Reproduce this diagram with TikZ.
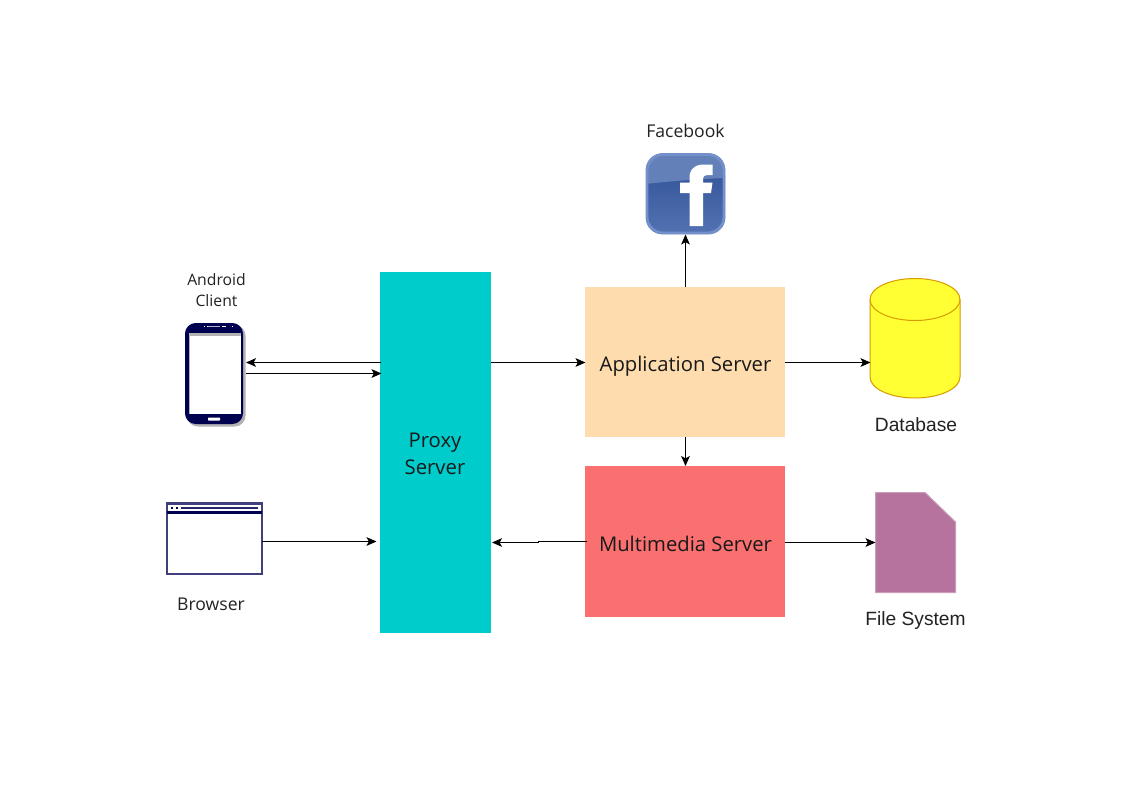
\documentclass[tikz,border=0pt]{standalone}
\usepackage{fontspec}
\setmainfont{Open Sans}
\newfontfamily\helv{Liberation Sans}
\usetikzlibrary{arrows.meta,shapes.geometric}
\definecolor{proxyc}{HTML}{00CCCC}
\definecolor{appc}{HTML}{FFDCAD}
\definecolor{mmc}{HTML}{FA7070}
\definecolor{dbc}{HTML}{FFFF33}
\definecolor{dbl}{HTML}{D79B00}
\definecolor{filec}{HTML}{B5739D}
\definecolor{navy}{HTML}{000050}
\definecolor{txt}{HTML}{222222}
\definecolor{fbdark}{HTML}{37589C}
\definecolor{fbmid}{HTML}{5272B2}
\definecolor{fblight}{HTML}{6480B8}
\definecolor{fbedge}{HTML}{7390CA}
\tikzset{
  x=0.75pt,y=-0.75pt,
  conn/.style={draw=black,line width=0.75pt,-{Stealth[length=7.5pt,width=6.5pt,inset=1.8pt]}},
  server/.style={anchor=center,inner sep=0pt,align=center,text=black!90,font=\fontsize{15.2pt}{20pt}\selectfont},
  lab/.style={anchor=center,inner sep=0pt,align=center,text=txt,font=\fontsize{13.2pt}{15.6pt}\selectfont},
  smalllab/.style={anchor=center,inner sep=0pt,align=center,text=txt,font=\fontsize{11.8pt}{15.7pt}\selectfont},
  hlab/.style={anchor=center,inner sep=0pt,align=center,text=txt,font=\helv\fontsize{14.4pt}{16pt}\selectfont},
}
\begin{document}
\begin{tikzpicture}
\useasboundingbox (0,0) rectangle (1143,793);
\fill[white] (0,0) rectangle (1143,793);
% boxes
\fill[proxyc] (380,272) rectangle (491,633);
\node[server] (proxy) at (435,454) {Proxy\\Server};
\fill[appc] (585,287) rectangle (785,437);
\node[server] (app) at (685.5,366) {Application Server};
\fill[mmc] (585,466) rectangle (785,617);
\node[server] (mm) at (685.5,544) {Multimedia Server};
% database
\path[draw=dbl,fill=dbc,line width=0.75pt] (870,299.5) arc[x radius=45,y radius=21,start angle=180,end angle=360] -- (960,377) arc[x radius=45,y radius=21,start angle=0,end angle=180] -- cycle;
\draw[dbl,line width=0.75pt] (870,299.5) arc[x radius=45,y radius=21,start angle=180,end angle=0];
\node[hlab] (dblab) at (916,424.5) {Database};
% file
\path[fill=filec,draw=filec!70!white,line width=0.75pt] (875.5,492.5) -- (925,492.5) -- (955.5,522) -- (955.5,592.5) -- (875.5,592.5) -- cycle;
\node[hlab] (filelab) at (915.5,620.5) {File System};
% facebook
\node[lab] (fblab) at (685.5,131) {Facebook};
\begin{scope}
\clip[rounded corners=12] (646,153.5) rectangle (725,234);
\shade[top color=fbdark,bottom color=fbmid] (646,175) rectangle (725,234);
\fill[fblight] (646,153.5) -- (725,153.5) -- (725,178) .. controls (700,179) and (670,181) .. (646,184) -- cycle;
\end{scope}
\draw[fbedge,line width=2.2pt,rounded corners=12] (647,154.5) rectangle (724,233);
\path[fill=white] (689.5,226) -- (689.5,193) -- (680,193) -- (680,182.5) -- (689.5,182.5) -- (689.5,178)
  .. controls (689.5,169) and (695,164.5) .. (704,164.5) -- (712.5,164.5) -- (712.5,175) -- (707,175)
  .. controls (704,175) and (703,176.5) .. (703,179) -- (703,182.5) -- (712.5,182.5) -- (711,193) -- (703,193) -- (703,226) -- cycle;
% phone
\node[smalllab] (androidlab) at (216.5,290) {Android\\Client};
\fill[black!30,rounded corners=8] (187,325) rectangle (245.5,426.5);
\fill[navy,rounded corners=8] (185,323) rectangle (243,424);
\fill[black!30] (188.5,333) rectangle (240.5,414);
\fill[white] (190,335.5) rectangle (240.5,414);
\fill[white] (207,325.7) rectangle (210,326.3);
\fill[white!70!navy] (208,325.6) rectangle (220,326.4);
\fill[white] (222,325.5) rectangle (226,326.5);
\fill[white] (232,325.5) rectangle (233,326.5);
\fill[white] (204,325.5) rectangle (205,326.5);
\fill[white,rounded corners=0.5] (208,417.5) rectangle (220,420.5);
% browser
\draw[navy!75!white,line width=1.7pt] (167,503.5) rectangle (262,574);
\draw[navy,line width=1.7pt] (167,512.5) -- (262,512.5);
\draw[navy!85!white,line width=1.5pt] (181,507.8) -- (258,507.8);
\fill[navy] (171,506.8) rectangle (173,508.8);
\fill[navy] (176,506.8) rectangle (178,508.8);
\node[lab] (browserlab) at (211,604) {Browser};
% connector ends
\coordinate (proxyA) at (381,362.5);
\coordinate (phoneA) at (246,362.5);
\coordinate (phoneB) at (246,373.5);
\coordinate (proxyB) at (381.5,373.5);
\coordinate (browserR) at (262,541.5);
\coordinate (proxyC) at (376.5,541.5);
\coordinate (proxyR) at (491,362.5);
\coordinate (appL) at (585.5,362.5);
\coordinate (appT) at (685.5,287);
\coordinate (fbB) at (685.5,234.5);
\coordinate (appR) at (785,362.5);
\coordinate (dbL) at (870.5,362.5);
\coordinate (appB) at (685.5,437);
\coordinate (mmT) at (685.5,466);
\coordinate (mmL) at (587,541.5);
\coordinate (jogA) at (538.5,541.5);
\coordinate (jogB) at (538.5,542.5);
\coordinate (proxyD) at (492,542.5);
\coordinate (mmR) at (785,542.5);
\coordinate (fileL) at (875.5,542.5);
% connectors
\draw[conn] (proxyA) -- (phoneA);
\draw[conn] (phoneB) -- (proxyB);
\draw[conn] (browserR) -- (proxyC);
\draw[conn] (proxyR) -- (appL);
\draw[conn] (appT) -- (fbB);
\draw[conn] (appR) -- (dbL);
\draw[conn] (appB) -- (mmT);
\draw[conn] (mmL) -- (jogA) -- (jogB) -- (proxyD);
\draw[conn] (mmR) -- (fileL);
\end{tikzpicture}
\end{document}
